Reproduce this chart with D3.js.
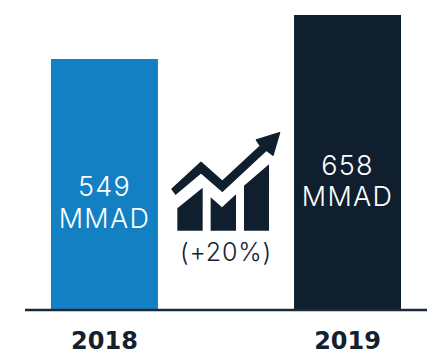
<!DOCTYPE html>
<html>
<head>
<meta charset="utf-8">
<script src="https://cdn.jsdelivr.net/npm/d3@7"></script>
<style>
  html, body { margin: 0; background: #fff; }
  text { font-family: Inter, "Open Sans", sans-serif; text-anchor: middle; }
  .val { fill: #fff; font-size: 27px; font-weight: 300; letter-spacing: 1.3px; }
  .year { fill: #13212f; font-family: "DejaVu Sans", sans-serif; font-size: 24px; font-weight: 700; }
  .pct { fill: #13212f; font-size: 25px; font-weight: 300; letter-spacing: 0.8px; }
</style>
</head>
<body>
<svg id="chart" width="437" height="352"></svg>
<script>
var years = ["2018", "2019"];
var values = [549, 658];
var barColors = ["#1380c4", "#0f1f2e"];
var unit = "MMAD";
var change = "(+20%)";

var svg = d3.select("#chart");

var x = d3.scaleBand().domain(years).range([51, 401]).paddingInner(0.56);
// bars in the picture do not start from zero, the baseline sits below it
var y = d3.scaleLinear().domain([-73, 658]).range([310, 15]);

svg.selectAll("rect.bar")
    .data(years)
  .enter().append("rect")
    .attr("class", "bar")
    .attr("x", function (d) { return x(d); })
    .attr("width", x.bandwidth())
    .attr("y", function (d, i) { return y(values[i]); })
    .attr("height", function (d, i) { return 310 - y(values[i]); })
    .attr("fill", function (d, i) { return barColors[i]; });

svg.append("line")
    .attr("x1", 25).attr("x2", 427)
    .attr("y1", 310).attr("y2", 310)
    .attr("stroke", "#1a2a3a")
    .attr("stroke-width", 2.5);

svg.selectAll("text.year")
    .data(years)
  .enter().append("text")
    .attr("class", "year")
    .attr("x", function (d) { return x(d) + x.bandwidth() / 2; })
    .attr("y", 349)
    .text(function (d) { return d; });

// value labels, number above the unit
var baselines = [[196, 228], [175, 206]];
years.forEach(function (d, i) {
  var cx = x(d) + x.bandwidth() / 2;
  svg.append("text").attr("class", "val").attr("x", cx).attr("y", baselines[i][0]).text(values[i]);
  svg.append("text").attr("class", "val").attr("x", cx).attr("y", baselines[i][1]).text(unit);
});

// growth icon, traced in 3x crop coordinates
var icon = svg.append("g")
    .attr("transform", "translate(160,120) scale(0.3333)")
    .attr("fill", "#0f1f2e");

icon.append("path").attr("d", "M52,332V265L128,203V332Z");
icon.append("path").attr("d", "M152,332V232L186,262L228,223V332Z");
icon.append("path").attr("d", "M252,332V197L327,133V332Z");
icon.append("path")
    .attr("stroke", "#0f1f2e")
    .attr("stroke-width", 4)
    .attr("stroke-linejoin", "round")
    .attr("d", "M36,207L123,127L187,184L301,78L289,60L359,38L339,106L319,91L187,214L123,158L47,222Z");

svg.append("text")
    .attr("class", "pct")
    .attr("x", 226)
    .attr("y", 261)
    .text(change);
</script>
</body>
</html>
